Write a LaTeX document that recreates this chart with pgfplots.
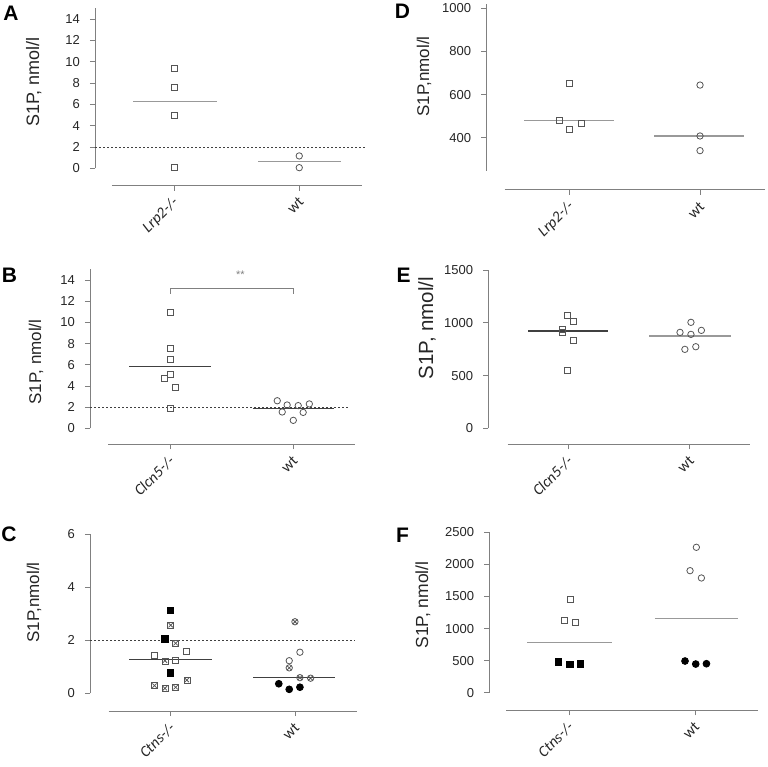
\documentclass[border=0pt]{standalone}
\usepackage{fontspec}
\setmainfont{Liberation Sans}
\newfontfamily\calib{Carlito}
\usepackage{pgfplots}
\pgfplotsset{compat=1.18}

\definecolor{axgray}{HTML}{808080}
\definecolor{mkgray}{HTML}{555555}
\definecolor{mlight}{HTML}{999999}
\definecolor{mdark}{HTML}{404040}
\definecolor{txt}{HTML}{262626}

\pgfplotsset{
  panel/.style={
    scale only axis,
    axis x line*=bottom, axis y line*=left,
    x axis line style={draw=none},
    y axis line style={draw=axgray, line width=1pt, shorten <=#1},
    tick align=outside, major tick length=5pt,
    tick style={axgray, line width=0.8pt},
    xtick={0,1}, xticklabels={},
    yticklabel style={font=\fontsize{13}{13}\selectfont, text=txt, inner sep=0pt, anchor=east, xshift=-10pt},
    /pgf/number format/assume math mode=true,
    /pgf/number format/1000 sep={},
    scaled y ticks=false,
    clip=false,
    anchor=south west,
  },
  om/.style={only marks, mark options={line width=0.8pt, solid}},
}
\tikzset{
  xl/.style={font=\calib\itshape\fontsize{15.5}{15.5}\selectfont, text=txt, xshift=2pt, yshift=-14pt, rotate=45, anchor=east, inner sep=0pt},
  xw/.style={font=\calib\fontsize{15.5}{15.5}\selectfont, text=txt, xshift=2pt, yshift=-14pt, rotate=45, anchor=east, inner sep=0pt},
}

\begin{document}
\begin{tikzpicture}
\useasboundingbox (0,0) rectangle (768pt,766pt);

% ---------------- A ----------------
\begin{axis}[panel=17.4pt, at={(95pt,580.3pt)}, width=273.0pt, height=177.3pt,
  xmin=-0.634, xmax=1.55, ymin=-1.632, ymax=15, ytick={0,2,...,14}]
\draw[axgray, line width=1pt] (axis cs:-0.5,-1.632) -- (axis cs:1.5,-1.632);
\addplot[black!75, dash pattern=on 2pt off 2pt, line width=0.8pt] coordinates {(-0.634,2) (1.53,2)};
\addplot[mlight, line width=1.2pt] coordinates {(-0.33,6.23) (0.34,6.23)};
\addplot[mlight, line width=1.2pt] coordinates {(0.67,0.63) (1.33,0.63)};
\addplot[om, mark=square, mark size=3pt, mkgray] coordinates {(0,9.4) (0,7.6) (0,4.98) (0,0.06)};
\addplot[om, mark=o, mark size=3.2pt, mkgray] coordinates {(1,1.16) (1,0.06)};
\node[xl] at (axis cs:0,-1.632) {Lrp2-/-};
\node[xw] at (axis cs:1,-1.632) {wt};
\end{axis}

% ---------------- B ----------------
\begin{axis}[panel=16pt, at={(90pt,321.7pt)}, width=271.1pt, height=174.9pt,
  xmin=-0.649, xmax=1.55, ymin=-1.511, ymax=15, ytick={0,2,...,14}]
\draw[axgray, line width=1pt] (axis cs:-0.5,-1.511) -- (axis cs:1.5,-1.511);
\addplot[black!75, dash pattern=on 2pt off 2pt, line width=0.8pt] coordinates {(-0.649,2) (1.44,2)};
\addplot[mdark, line width=1.2pt] coordinates {(-0.33,5.8) (0.33,5.8)};
\addplot[mdark, line width=1.2pt] coordinates {(0.67,1.9) (1.33,1.9)};
\draw[axgray, line width=0.9pt] (axis cs:0,12.7) -- (axis cs:0,13.2) -- (axis cs:1,13.2) -- (axis cs:1,12.7);
\node[font=\fontsize{11}{11}\selectfont, text=axgray] at (axis cs:0.57,14.5) {**};
\addplot[om, mark=square, mark size=3pt, mkgray] coordinates {(0,10.9) (0,7.5) (0,6.5) (0,5.1) (-0.046,4.75) (0.04,3.9) (0,1.9)};
\addplot[om, mark=o, mark size=3.2pt, mkgray] coordinates {(0.87,2.6) (0.95,2.2) (1.04,2.14) (1.13,2.3) (0.91,1.54) (1.08,1.5) (1.0,0.75)};
\node[xl] at (axis cs:0,-1.511) {Clcn5-/-};
\node[xw] at (axis cs:1,-1.511) {wt};
\end{axis}

% ---------------- C ----------------
\begin{axis}[panel=17.7pt, at={(90pt,55pt)}, width=273.3pt, height=176.7pt,
  xmin=-0.649, xmax=1.55, ymin=-0.668, ymax=6, ytick={0,2,4,6}]
\draw[axgray, line width=1pt] (axis cs:-0.5,-0.668) -- (axis cs:1.5,-0.668);
\addplot[black!75, dash pattern=on 2pt off 2pt, line width=0.8pt] coordinates {(-0.649,2) (1.48,2)};
\addplot[mdark, line width=1.2pt] coordinates {(-0.333,1.28) (0.33,1.28)};
\addplot[mdark, line width=1.2pt] coordinates {(0.665,0.59) (1.32,0.59)};
\addplot[om, mark=square*, mark size=3.2pt, black] coordinates {(0,3.13) (-0.046,2.06) (0,0.77)};
\addplot[om, mark=square, mark size=3pt, mkgray, mark options={fill=white}] coordinates {(0,2.57) (0.04,1.89) (-0.046,1.23) (0.13,0.5) (-0.13,0.29) (-0.046,0.19) (0.04,0.23)};
\addplot[om, mark=x, mark size=3pt, mkgray] coordinates {(0,2.57) (0.04,1.89) (-0.046,1.23) (0.13,0.5) (-0.13,0.29) (-0.046,0.19) (0.04,0.23)};
\addplot[om, mark=square, mark size=3pt, mkgray] coordinates {(-0.13,1.42) (0.04,1.26) (0.13,1.6)};
\addplot[om, mark=otimes, mark size=3.2pt, mkgray] coordinates {(1,2.7) (0.954,0.96) (1.04,0.59) (1.126,0.57)};
\addplot[om, mark=o, mark size=3.2pt, mkgray] coordinates {(1.04,1.55) (0.954,1.23)};
\addplot[om, mark=*, mark size=3.4pt, black] coordinates {(0.87,0.36) (0.954,0.15) (1.04,0.23)};
\node[xl] at (axis cs:0,-0.668) {Ctns-/-};
\node[xw] at (axis cs:1,-0.668) {wt};
\end{axis}

% ---------------- D ----------------
\begin{axis}[panel=19.4pt, at={(486.3pt,576pt)}, width=285.4pt, height=186.0pt,
  xmin=-0.64, xmax=1.55, ymin=157.5, ymax=1020, ytick={400,600,800,1000}]
\draw[axgray, line width=1pt] (axis cs:-0.5,157.5) -- (axis cs:1.5,157.5);
\addplot[mlight, line width=1.2pt] coordinates {(-0.35,479) (0.34,479)};
\addplot[mlight, line width=1.2pt] coordinates {(0.65,408) (1.34,408)};
\addplot[om, mark=square, mark size=3pt, mkgray] coordinates {(0,650) (-0.08,482) (0,440) (0.09,468)};
\addplot[om, mark=o, mark size=3.2pt, mkgray] coordinates {(1,644) (1,408) (1,340)};
\node[xl] at (axis cs:0,157.5) {Lrp2-/-};
\node[xw] at (axis cs:1,157.5) {wt};
\end{axis}

% ---------------- E ----------------
\begin{axis}[panel=16pt, at={(488.3pt,321.7pt)}, width=268.2pt, height=174.3pt,
  xmin=-0.659, xmax=1.55, ymin=-151.6, ymax=1500, ytick={0,500,1000,1500}]
\draw[axgray, line width=1pt] (axis cs:-0.5,-151.6) -- (axis cs:1.5,-151.6);
\addplot[mdark, line width=1.2pt] coordinates {(-0.33,922) (0.33,922)};
\addplot[mlight, line width=1.2pt] coordinates {(0.665,875) (1.343,875)};
\addplot[om, mark=square, mark size=3pt, mkgray] coordinates {(-0.005,1067) (0.04,1010) (-0.05,941) (-0.05,906) (0.04,830) (-0.005,553)};
\addplot[om, mark=o, mark size=3.2pt, mkgray] coordinates {(1.01,1004) (0.92,909) (1.01,890) (1.096,928) (0.96,748) (1.05,773)};
\node[xl] at (axis cs:0,-151.6) {Clcn5-/-};
\node[xw] at (axis cs:1,-151.6) {wt};
\end{axis}

% ---------------- F ----------------
\begin{axis}[panel=17.6pt, at={(489.3pt,55.7pt)}, width=275.1pt, height=178.0pt,
  xmin=-0.633, xmax=1.55, ymin=-274, ymax=2500, ytick={0,500,...,2500}]
\draw[axgray, line width=1pt] (axis cs:-0.5,-274) -- (axis cs:1.5,-274);
\addplot[mlight, line width=1.2pt] coordinates {(-0.33,780) (0.34,780)};
\addplot[mlight, line width=1.2pt] coordinates {(0.68,1159) (1.34,1159)};
\addplot[om, mark=square, mark size=3pt, mkgray] coordinates {(0.01,1455) (-0.04,1133) (0.05,1097)};
\addplot[om, mark=square*, mark size=3.2pt, black] coordinates {(-0.085,483) (0.005,442) (0.09,452)};
\addplot[om, mark=o, mark size=3.2pt, mkgray] coordinates {(1.01,2266) (0.96,1902) (1.05,1788)};
\addplot[om, mark=*, mark size=3.4pt, black] coordinates {(0.92,494) (1.005,447) (1.09,452)};
\node[xl] at (axis cs:0,-274) {Ctns-/-};
\node[xw] at (axis cs:1,-274) {wt};
\end{axis}

\node[rotate=90, text=txt, font=\fontsize{18}{18}\selectfont] at (33.7pt,684pt) {S1P, nmol/l};
\node[rotate=90, text=txt, font=\fontsize{17}{17}\selectfont] at (36pt,404pt) {S1P, nmol/l};
\node[rotate=90, text=txt, font=\fontsize{17}{17}\selectfont] at (34pt,163.5pt) {S1P,nmol/l};
\node[rotate=90, text=txt, font=\fontsize{17}{17}\selectfont] at (424pt,689.5pt) {S1P,nmol/l};
\node[rotate=90, text=txt, font=\fontsize{20.5}{20.5}\selectfont] at (427pt,438pt) {S1P, nmol/l};
\node[rotate=90, text=txt, font=\fontsize{17.5}{17.5}\selectfont] at (423pt,161pt) {S1P, nmol/l};

\node[font=\bfseries\fontsize{21}{21}\selectfont] at (11pt,752.5pt) {A};
\node[font=\bfseries\fontsize{21}{21}\selectfont] at (9.5pt,491pt) {B};
\node[font=\bfseries\fontsize{21}{21}\selectfont] at (9pt,232pt) {C};
\node[font=\bfseries\fontsize{21}{21}\selectfont] at (402.5pt,754.3pt) {D};
\node[font=\bfseries\fontsize{21}{21}\selectfont] at (403.5pt,490.5pt) {E};
\node[font=\bfseries\fontsize{21}{21}\selectfont] at (402.5pt,231pt) {F};
\end{tikzpicture}
\end{document}
